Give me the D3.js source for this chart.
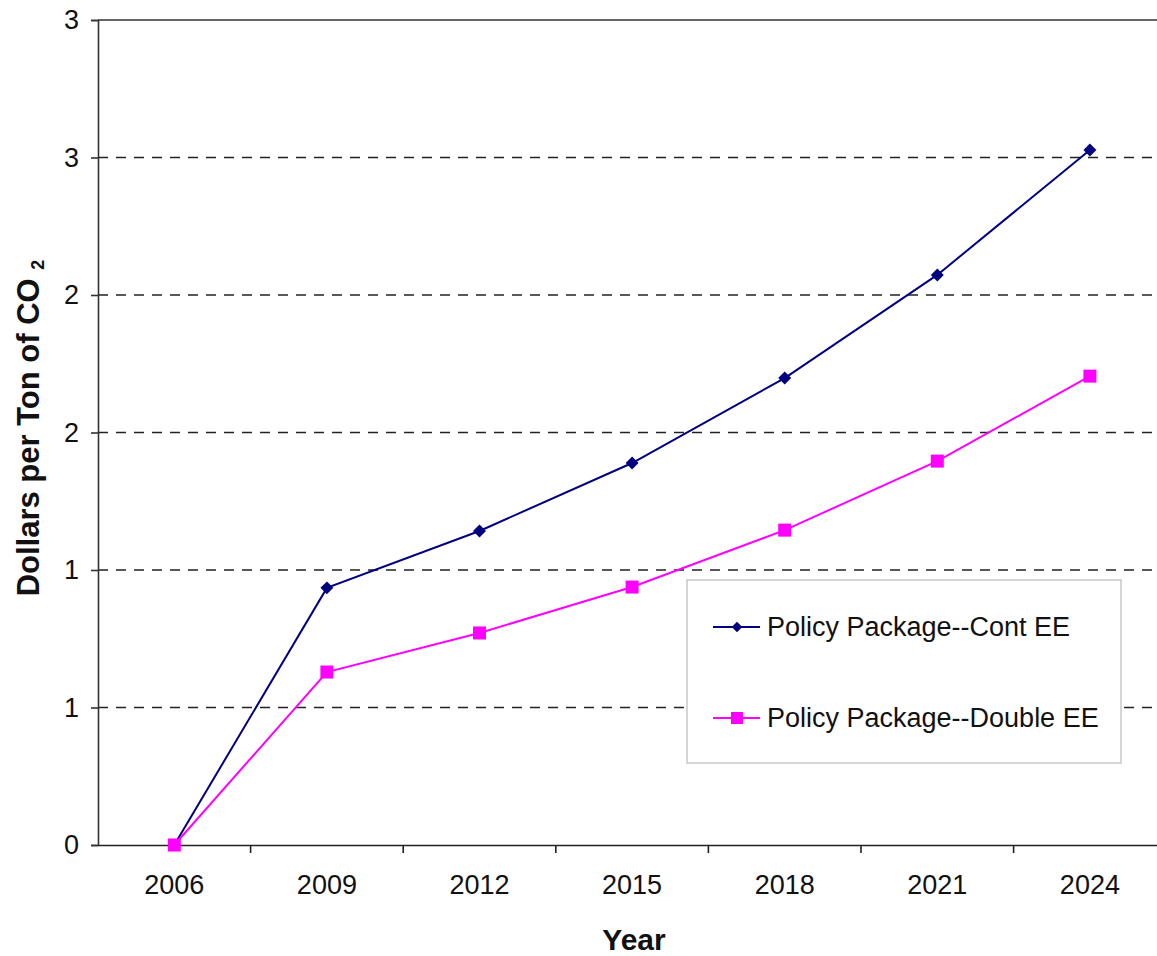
<!DOCTYPE html>
<html>
<head>
<meta charset="utf-8">
<script src="https://cdn.jsdelivr.net/npm/d3@7/dist/d3.min.js"></script>
<style>
  html, body { margin: 0; padding: 0; background: #fff; }
  svg { display: block; font-family: "Liberation Sans", Arial, sans-serif; }
</style>
</head>
<body>
<svg id="chart" width="1157" height="956"></svg>
<script>
const years = ["2006", "2009", "2012", "2015", "2018", "2021", "2024"];
const contEE = [0, 0.935, 1.142, 1.389, 1.698, 2.073, 2.527];
const doubleEE = [0, 0.629, 0.771, 0.938, 1.145, 1.396, 1.705];
const yTicks = [0, 0.5, 1, 1.5, 2, 2.5, 3];
const yTickLabels = ["0", "1", "1", "2", "2", "3", "3"];
const seriesNames = ["Policy Package--Cont EE", "Policy Package--Double EE"];

const svg = d3.select("#chart");
const margin = { left: 98, top: 20, bottom: 845 };
const plotRight = 98 + 7 * 152.6;

const x = d3.scaleBand().domain(years).range([margin.left, plotRight]).paddingInner(0).paddingOuter(0);
const y = d3.scaleLinear().domain([0, 3]).range([margin.bottom, margin.top]);

// gridlines (dashed)
svg.append("g").selectAll("line")
  .data(yTicks.filter(t => t > 0 && t < 3))
  .join("line")
  .attr("x1", margin.left).attr("x2", plotRight)
  .attr("y1", d => y(d)).attr("y2", d => y(d))
  .attr("stroke", "#222").attr("stroke-width", 1.6)
  .attr("stroke-dasharray", "10,8");

// top border
svg.append("line")
  .attr("x1", margin.left).attr("x2", plotRight)
  .attr("y1", y(3)).attr("y2", y(3))
  .attr("stroke", "#333").attr("stroke-width", 1.6);

// Y axis
const yAxis = d3.axisLeft(y).tickValues(yTicks)
  .tickFormat((d, i) => yTickLabels[i]).tickSize(7).tickPadding(12);
const gy = svg.append("g").attr("transform", `translate(${margin.left},0)`).call(yAxis);
gy.select(".domain").attr("stroke", "#333").attr("stroke-width", 1.6);
gy.selectAll(".tick line").attr("stroke", "#333").attr("stroke-width", 1.6);
gy.selectAll(".tick text").attr("font-size", 27).attr("fill", "#111")
  .attr("font-family", "Liberation Sans, Arial, sans-serif");

// X axis
const xAxis = d3.axisBottom(x).tickSize(0).tickPadding(30);
const gx = svg.append("g").attr("transform", `translate(0,${margin.bottom})`).call(xAxis);
gx.select(".domain").attr("stroke", "#222").attr("stroke-width", 1.6);
gx.selectAll(".tick text").attr("font-size", 27).attr("fill", "#111")
  .attr("font-family", "Liberation Sans, Arial, sans-serif");
// tick marks at band boundaries
gx.append("g").selectAll("line")
  .data(years.slice(1))
  .join("line")
  .attr("x1", d => x(d)).attr("x2", d => x(d))
  .attr("y1", 0).attr("y2", 8)
  .attr("stroke", "#222").attr("stroke-width", 1.6);

const cx = d => x(d) + x.bandwidth() / 2;

// lines
const line = d3.line().x((d, i) => cx(years[i])).y(d => y(d));
svg.append("path").datum(contEE).attr("d", line)
  .attr("fill", "none").attr("stroke", "#000080").attr("stroke-width", 2);
svg.append("path").datum(doubleEE).attr("d", line)
  .attr("fill", "none").attr("stroke", "#FF00FF").attr("stroke-width", 2);

const diamond = d3.symbol().type(d3.symbolSquare).size(84);
svg.append("g").selectAll("path").data(contEE).join("path")
  .attr("d", diamond)
  .attr("transform", (d, i) => `translate(${cx(years[i])},${y(d)}) rotate(45)`)
  .attr("fill", "#000080");
svg.append("g").selectAll("rect").data(doubleEE).join("rect")
  .attr("x", (d, i) => cx(years[i]) - 6.5).attr("y", d => y(d) - 6.5)
  .attr("width", 13).attr("height", 13).attr("fill", "#FF00FF");

// legend
const lg = svg.append("g");
lg.append("rect").attr("x", 687).attr("y", 580).attr("width", 434).attr("height", 183)
  .attr("fill", "#fff").attr("stroke", "#c8c8c8").attr("stroke-width", 1.5);
const legendRows = [
  { name: seriesNames[0], color: "#000080", yy: 627, type: "diamond" },
  { name: seriesNames[1], color: "#FF00FF", yy: 718, type: "square" }
];
legendRows.forEach(r => {
  lg.append("line").attr("x1", 713).attr("x2", 760).attr("y1", r.yy).attr("y2", r.yy)
    .attr("stroke", r.color).attr("stroke-width", 2);
  if (r.type === "diamond") {
    lg.append("path").attr("d", d3.symbol().type(d3.symbolSquare).size(56)())
      .attr("transform", `translate(737,${r.yy}) rotate(45)`).attr("fill", r.color);
  } else {
    lg.append("rect").attr("x", 731).attr("y", r.yy - 6).attr("width", 12).attr("height", 12)
      .attr("fill", r.color);
  }
  lg.append("text").attr("x", 767).attr("y", r.yy).attr("dy", "0.35em")
    .attr("font-size", 27).attr("fill", "#111").text(r.name);
});

// axis titles
svg.append("text").attr("x", 634).attr("y", 950).attr("text-anchor", "middle")
  .attr("font-size", 30).attr("font-weight", "bold").attr("fill", "#111").text("Year");

const yt = svg.append("text")
  .attr("transform", "translate(39,428) rotate(-90)")
  .attr("text-anchor", "middle")
  .attr("font-size", 31).attr("font-weight", "bold").attr("fill", "#111");
yt.append("tspan").text("Dollars per Ton of CO ");
yt.append("tspan").attr("font-size", 18).attr("dy", 5).text("2");
</script>
</body>
</html>
